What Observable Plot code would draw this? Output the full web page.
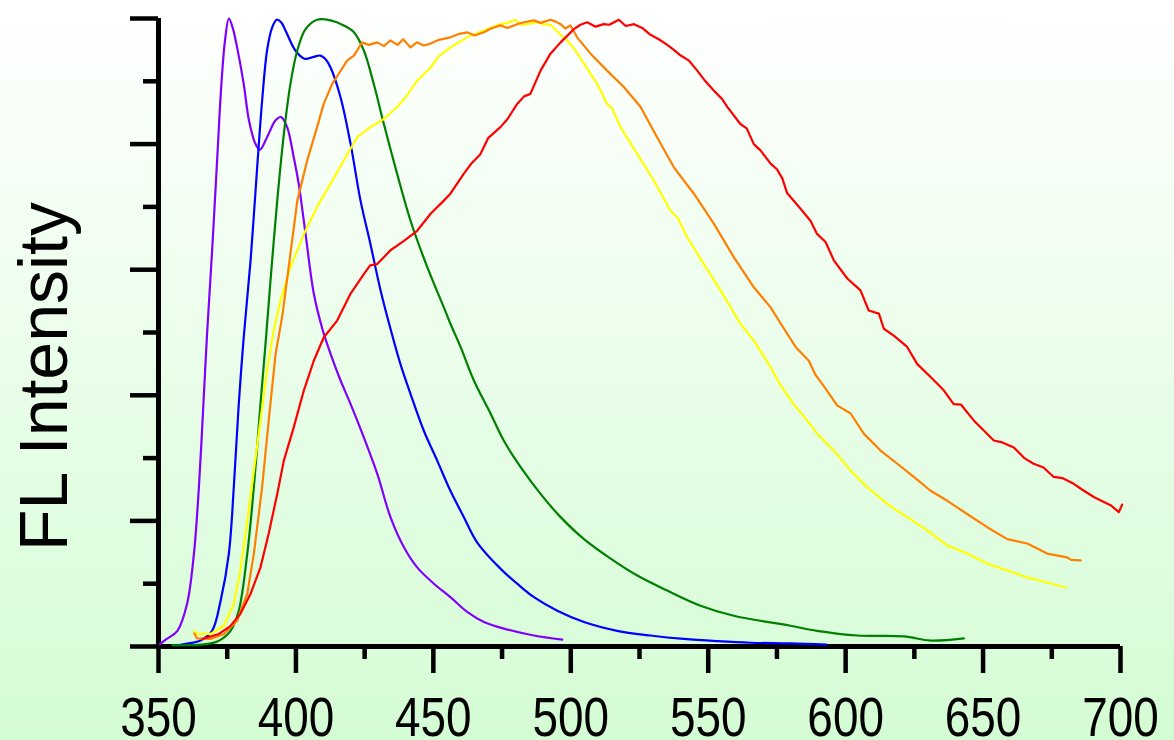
<!DOCTYPE html>
<html>
<head>
<meta charset="utf-8">
<script src="https://cdn.jsdelivr.net/npm/d3@7"></script>
<script src="https://cdn.jsdelivr.net/npm/@observablehq/plot@0.6"></script>
<style>
html, body { margin: 0; padding: 0; background: #ffffff; }
#chart { width: 1174px; height: 740px; }
</style>
</head>
<body>
<div id="chart"></div>
<script>
// ---------- data (wavelength in nm, normalized FL intensity) ----------
const seriesNames = ["violet", "blue", "green", "yellow", "orange", "red"];
const seriesColors = ["#8000ff", "#0000ff", "#008000", "#ffff00", "#ff8000", "#ff0000"];
const smoothSeries = ["violet", "blue", "green"];

const violetX = [350.5, 353, 356.9, 360.4, 362.9, 364.7, 366.5, 367.7, 369.5, 371.4, 372.8, 374.2, 375.6, 377, 378.6, 381, 382.9, 385.3, 386.9, 389.5, 392.6, 394.6, 396.8, 399.2, 401, 403.5, 406.5, 409.6, 412.6, 416.2, 419.9, 424.7, 429.6, 434.4, 439.3, 444.1, 450.2, 456.2, 462.3, 468.4, 476.9, 486.6, 496.9];
const violetY = [0.004, 0.012, 0.025, 0.068, 0.148, 0.254, 0.40, 0.50, 0.63, 0.78, 0.89, 0.965, 1.0, 0.985, 0.954, 0.896, 0.838, 0.80, 0.791, 0.811, 0.838, 0.843, 0.827, 0.779, 0.737, 0.657, 0.562, 0.506, 0.466, 0.424, 0.386, 0.333, 0.275, 0.206, 0.158, 0.126, 0.100, 0.0785, 0.055, 0.039, 0.027, 0.0175, 0.011];

const blueX = [357, 361, 365.3, 369.5, 372.6, 375.6, 377.4, 379.2, 381, 383.5, 385.9, 387.7, 389.5, 391.3, 393, 394.6, 396.2, 399.8, 403.1, 406.5, 408.9, 410.8, 412.6, 416.2, 419.9, 423.5, 427.1, 430.8, 434.4, 438, 441.7, 446.5, 451.4, 456.2, 461.1, 465.9, 474.4, 480.5, 486.6, 495.1, 504.8, 516.9, 529, 541.1, 553.3, 565.4, 579.9, 593];
const blueY = [0.002, 0.005, 0.0096, 0.025, 0.073, 0.148, 0.254, 0.386, 0.492, 0.615, 0.763, 0.869, 0.949, 0.985, 0.998, 0.994, 0.981, 0.949, 0.936, 0.939, 0.941, 0.935, 0.922, 0.875, 0.80, 0.71, 0.641, 0.567, 0.506, 0.45, 0.402, 0.344, 0.296, 0.248, 0.206, 0.166, 0.124, 0.10, 0.0785, 0.057, 0.039, 0.025, 0.0175, 0.012, 0.0085, 0.006, 0.005, 0.003];

const greenX = [355, 360, 365.3, 371.4, 376.2, 379.2, 382.3, 384.7, 387.1, 388.9, 390.7, 393.2, 395.6, 398, 400.5, 403.5, 407.7, 412.6, 417.4, 421.1, 424.7, 428.3, 432, 436.8, 441.7, 447.8, 453.8, 456.2, 459.9, 464.7, 470.8, 475.6, 481.7, 489, 496.3, 504.8, 514.5, 524.2, 535.1, 547.2, 559.3, 580, 589.6, 604.2, 621.2, 630.9, 643];
const greenY = [0.002, 0.002, 0.003, 0.008, 0.025, 0.057, 0.148, 0.254, 0.386, 0.48, 0.58, 0.71, 0.816, 0.896, 0.949, 0.983, 0.998, 0.997, 0.989, 0.978, 0.949, 0.896, 0.832, 0.753, 0.678, 0.604, 0.54, 0.514, 0.477, 0.424, 0.371, 0.328, 0.286, 0.243, 0.206, 0.171, 0.14, 0.113, 0.089, 0.065, 0.049, 0.033, 0.025, 0.0175, 0.016, 0.0095, 0.013];

const yellowX = [363, 364, 368.9, 373.8, 377.4, 379.8, 382.3, 384.7, 387.1, 389.5, 391.9, 394.4, 398, 402.9, 407.7, 412.6, 417.4, 422.3, 427.1, 432, 436.8, 440, 444.1, 449, 452, 456.2, 462.3, 468.4, 474.4, 477, 479.9, 482, 484.1, 487.7, 490, 492.6, 496.3, 498.7, 501.7, 504.8, 509.6, 513.2, 515, 518.1, 524.2, 530.2, 536.3, 539, 542.3, 548.4, 554.5, 561.7, 566.6, 572.7, 576.3, 581.1, 586, 589.6, 595.7, 601.8, 607.8, 615.1, 622.4, 629.7, 636.9, 644.2, 651.5, 658.8, 666.1, 673.3, 680];
const yellowY = [0.024, 0.02, 0.02, 0.033, 0.068, 0.121, 0.2, 0.28, 0.36, 0.44, 0.503, 0.551, 0.604, 0.657, 0.70, 0.737, 0.774, 0.811, 0.827, 0.84, 0.859, 0.875, 0.901, 0.922, 0.94, 0.954, 0.970, 0.981, 0.991, 0.993, 0.998, 0.99, 0.991, 0.994, 0.991, 0.99, 0.974, 0.965, 0.949, 0.928, 0.896, 0.864, 0.857, 0.827, 0.784, 0.742, 0.694, 0.682, 0.652, 0.609, 0.567, 0.514, 0.487, 0.445, 0.416, 0.386, 0.36, 0.339, 0.312, 0.28, 0.254, 0.227, 0.206, 0.185, 0.161, 0.148, 0.132, 0.121, 0.11, 0.102, 0.094];

const orangeX = [363, 364, 368.9, 373.8, 378.6, 382.3, 384.7, 387.7, 390.1, 392.6, 395, 396.8, 400.5, 404.1, 407.7, 410.1, 413.2, 415.6, 418.6, 421.1, 424.1, 426.5, 429.6, 432, 434.4, 437, 439, 441.7, 444, 446.5, 449, 452, 456.2, 459, 462.3, 465, 468.4, 471, 474.4, 477, 480.5, 483, 486.6, 489, 492.6, 494.5, 496.3, 498, 499.9, 502.3, 507.2, 513.2, 519.3, 525.4, 531.4, 537.5, 544.8, 552.1, 559.3, 566.6, 572.7, 577, 581.8, 586.6, 589.1, 592, 596.9, 601.8, 606.6, 612.7, 618.8, 624.8, 630.9, 637, 644.2, 651.5, 658.8, 666.1, 673.3, 680.6, 682, 685.5];
const orangeY = [0.021, 0.013, 0.012, 0.02, 0.041, 0.084, 0.148, 0.254, 0.36, 0.466, 0.525, 0.585, 0.71, 0.774, 0.827, 0.864, 0.896, 0.912, 0.933, 0.941, 0.962, 0.958, 0.962, 0.956, 0.965, 0.958, 0.967, 0.954, 0.962, 0.957, 0.96, 0.966, 0.970, 0.975, 0.978, 0.973, 0.978, 0.984, 0.989, 0.985, 0.991, 0.994, 0.997, 0.993, 0.998, 0.995, 0.991, 0.984, 0.989, 0.97, 0.944, 0.917, 0.891, 0.859, 0.811, 0.763, 0.721, 0.673, 0.62, 0.572, 0.54, 0.51, 0.477, 0.455, 0.432, 0.415, 0.384, 0.371, 0.339, 0.312, 0.291, 0.27, 0.248, 0.232, 0.211, 0.19, 0.171, 0.164, 0.148, 0.142, 0.138, 0.137];

const redX = [366, 372, 376, 379.8, 383.5, 387.1, 390.1, 393.2, 395.6, 399.2, 402.9, 406.5, 410.1, 415, 419.9, 424.7, 427, 429.6, 434.4, 439.3, 444.1, 449, 453.8, 456.2, 461.1, 464, 467.1, 470, 474.4, 477, 480.5, 483, 485.3, 489, 492.6, 496.3, 501.1, 503.5, 506, 509, 512, 514, 517.5, 520, 523, 526, 529, 532, 535.1, 537.5, 540, 543, 546, 549, 552.1, 555, 557, 561.7, 564, 566.6, 569, 572.7, 575, 577, 578.7, 583.6, 587.2, 589.6, 592.7, 595.7, 600.6, 605.4, 608.4, 612.1, 613.9, 617.5, 622.4, 626, 630.9, 635.7, 639.3, 642, 646.6, 650, 653.9, 657, 661.2, 665, 668.4, 672, 675.7, 679, 683, 686, 690.3, 693, 696.4, 699.4, 700.6];
const redY = [0.012, 0.02, 0.032, 0.052, 0.084, 0.126, 0.18, 0.243, 0.296, 0.349, 0.408, 0.455, 0.492, 0.519, 0.562, 0.593, 0.607, 0.609, 0.631, 0.646, 0.662, 0.689, 0.71, 0.721, 0.753, 0.77, 0.784, 0.81, 0.827, 0.84, 0.864, 0.876, 0.88, 0.917, 0.944, 0.962, 0.983, 0.99, 0.994, 0.987, 0.991, 0.99, 0.998, 0.988, 0.991, 0.985, 0.974, 0.967, 0.958, 0.95, 0.941, 0.933, 0.917, 0.9, 0.885, 0.872, 0.859, 0.832, 0.825, 0.80, 0.79, 0.769, 0.76, 0.745, 0.722, 0.697, 0.678, 0.657, 0.644, 0.615, 0.586, 0.567, 0.535, 0.53, 0.506, 0.495, 0.477, 0.45, 0.429, 0.408, 0.386, 0.385, 0.36, 0.345, 0.328, 0.325, 0.317, 0.30, 0.291, 0.285, 0.27, 0.268, 0.259, 0.25, 0.238, 0.232, 0.225, 0.214, 0.226];

const xMajorTicks = [350, 400, 450, 500, 550, 600, 650, 700];
const xMinorTicks = [375, 425, 475, 525, 575, 625, 675];
const yMajorTicks = [0, 0.2, 0.4, 0.6, 0.8, 1.0];
const yMinorTicks = [0.1, 0.3, 0.5, 0.7, 0.9];
const yLabel = "FL Intensity";

// ---------- build table ----------
const seriesData = {
  violet: [violetX, violetY],
  blue: [blueX, blueY],
  green: [greenX, greenY],
  yellow: [yellowX, yellowY],
  orange: [orangeX, orangeY],
  red: [redX, redY]
};
const rows = seriesNames.flatMap(name => {
  const [xs, ys] = seriesData[name];
  return xs.map((x, i) => ({series: name, x, y: ys[i]}));
});
const smoothRows = rows.filter(d => smoothSeries.includes(d.series));
const noisyRows = rows.filter(d => !smoothSeries.includes(d.series));

const blankFormat = () => "";
const seriesStroke = {value: "series", scale: "color"};

const chart = Plot.plot({
  width: 1174,
  height: 740,
  marginLeft: 158,
  marginRight: 54,
  marginTop: 18,
  marginBottom: 94,
  style: {
    background: "linear-gradient(to bottom, #ffffff 0%, #d4fcd4 100%)",
    fontFamily: "'Liberation Sans', Arial, sans-serif",
    color: "#000000",
    overflow: "visible"
  },
  x: {domain: [350, 700]},
  y: {domain: [0, 1]},
  color: {type: "ordinal", domain: seriesNames, range: seriesColors},
  marks: [
    Plot.axisY({ticks: yMinorTicks, tickSize: 15, strokeWidth: 4.5, tickFormat: blankFormat, label: null}),
    Plot.axisY({ticks: yMajorTicks, tickSize: 28, strokeWidth: 4.5, tickFormat: blankFormat, label: null}),
    Plot.axisX({ticks: xMinorTicks, tickSize: 13, strokeWidth: 4.5, tickFormat: blankFormat, label: null}),
    Plot.axisX({ticks: xMajorTicks, tickSize: 27, tickPadding: 23, strokeWidth: 4.5, fontSize: 56, tickFormat: d => String(d), label: null}),
    Plot.ruleY([0], {strokeWidth: 5}),
    Plot.ruleX([350], {strokeWidth: 5}),
    Plot.line(smoothRows, {x: "x", y: "y", z: "series", stroke: seriesStroke, strokeWidth: 2.2, curve: "catmull-rom"}),
    Plot.line(noisyRows, {x: "x", y: "y", z: "series", stroke: seriesStroke, strokeWidth: 2.2, curve: "linear"}),
    Plot.text([yLabel], {text: d => d, frameAnchor: "left", textAnchor: "middle", rotate: -90, dx: -113, dy: 44, fontSize: 68, fill: "#000000"})
  ]
});

document.getElementById("chart").appendChild(chart);

// tick labels in a condensed face (fallback: condense the regular face)
const tickTexts = chart.querySelectorAll('g[aria-label="x-axis tick label"] text');
tickTexts.forEach(t => {
  t.setAttribute("font-family", "'Liberation Sans Narrow', 'Arial Narrow', 'Liberation Sans', Arial, sans-serif");
  t.style.fontFamily = "'Liberation Sans Narrow', 'Arial Narrow', 'Liberation Sans', Arial, sans-serif";
  const len = t.getComputedTextLength();
  const target = 0.456 * 56 * t.textContent.length;
  if (len > target * 1.05) {
    t.setAttribute("textLength", target.toFixed(1));
    t.setAttribute("lengthAdjust", "spacingAndGlyphs");
  }
});
</script>
</body>
</html>
